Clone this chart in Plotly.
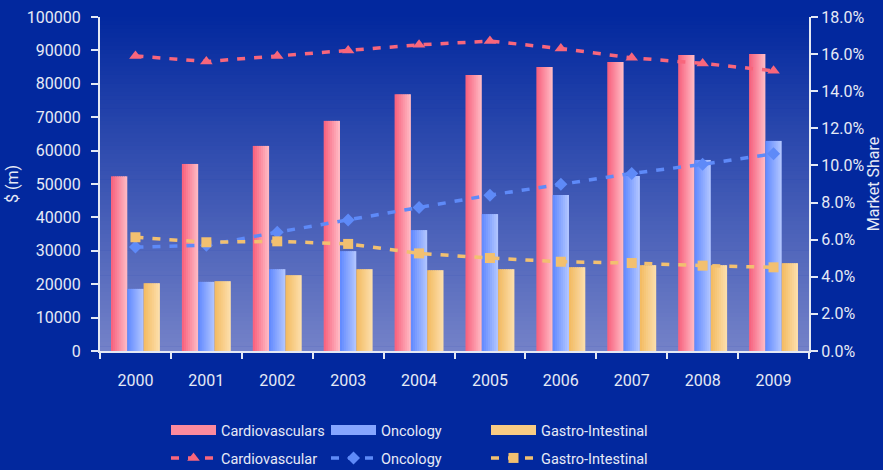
import plotly.graph_objects as go

years = ["2000", "2001", "2002", "2003", "2004", "2005", "2006", "2007", "2008", "2009"]

# Sales ($ m) - bars on left axis
sales_cardio = [52300, 56000, 61400, 68900, 76900, 82600, 85000, 86500, 88600, 88900]
sales_onco = [18600, 20700, 24500, 29900, 36200, 41000, 46700, 52400, 57200, 62900]
sales_gastro = [20300, 20900, 22700, 24500, 24200, 24500, 25100, 25700, 25700, 26300]

# Market share - lines on right axis
share_cardio = [0.159, 0.156, 0.159, 0.162, 0.165, 0.167, 0.163, 0.158, 0.155, 0.151]
share_onco = [0.056, 0.057, 0.064, 0.0706, 0.0774, 0.084, 0.0898, 0.0957, 0.1006, 0.1063]
share_gastro = [0.0613, 0.0586, 0.0591, 0.0577, 0.0526, 0.0501, 0.0481, 0.0474, 0.046, 0.0451]

bar_names = ["Cardiovasculars", "Oncology", "Gastro-Intestinal"]
line_names = ["Cardiovascular", "Oncology", "Gastro-Intestinal"]

left_ticks = list(range(0, 100001, 10000))
right_ticks = [i / 100 for i in range(0, 19, 2)]

BG = (2, 40, 158)
TXT = "#E6EAF6"
FONT = "Roboto"

bar_grad = [((248, 100, 128), (255, 184, 194)),
            ((100, 140, 255), (176, 196, 255)),
            ((244, 188, 100), (252, 222, 170))]
line_cols = ["#F8667C", "#5E8AF8", "#F2C070"]
symbols = ["triangle-up", "diamond", "square"]


def mix(a, b, t):
    return "rgb(%d,%d,%d)" % tuple(round(a[i] + (b[i] - a[i]) * t) for i in range(3))


fig = go.Figure()

group = 0.69
bw = group / 3
nsl = 8
series_vals = [sales_cardio, sales_onco, sales_gastro]
for s, vals in enumerate(series_vals):
    c0, c1 = bar_grad[s]
    for k in range(nsl):
        t = k / (nsl - 1)
        off = -group / 2 + s * bw + k * bw / nsl
        wid = bw / nsl * (1.35 if k < nsl - 1 else 1.0)
        fig.add_trace(go.Bar(
            x=years, y=vals, offset=off, width=wid,
            marker=dict(color=mix(c0, c1, t), line=dict(width=0)),
            name=bar_names[s], legendgroup="b%d" % s,
            showlegend=False,
        ))
    # legend swatch for the bar series
    fig.add_trace(go.Scatter(
        x=[None], y=[None], mode="lines", name=bar_names[s], legendgroup="b%d" % s,
        line=dict(color=mix(c0, c1, 0.45), width=10),
        legend="legend" if s == 0 else "legend%d" % (s + 1),
    ))

for s, vals in enumerate([share_cardio, share_onco, share_gastro]):
    fig.add_trace(go.Scatter(
        x=years, y=vals, yaxis="y2", mode="lines+markers",
        name=line_names[s], legend="legend%d" % (s + 4),
        line=dict(color=line_cols[s], width=3.5, dash="8px,9px"),
        marker=dict(symbol=symbols[s], size=11 if s == 0 else 10, color=line_cols[s]),
    ))

# gradient plot background
shapes = []
nstrip = 80
top = BG
bot = (116, 130, 200)
for i in range(nstrip):
    t = (i + 0.5) / nstrip
    shapes.append(dict(type="rect", xref="paper", yref="paper", layer="below",
                       x0=0, x1=1, y0=1 - (i + 1) / nstrip, y1=1 - i / nstrip + 0.002,
                       fillcolor=mix(top, bot, t), line=dict(width=0)))

axis_line = "#E4E8F4"
tickfont = dict(family=FONT, size=16, color=TXT)

W, H = 883, 470
col_x = [166, 326, 486]
row_y = [430, 458]
legends = {}
n = 0
for r in range(2):
    for c in range(3):
        n += 1
        key = "legend" if n == 1 else "legend%d" % n
        legends[key] = dict(orientation="h", xref="container", yref="container",
                            x=col_x[c] / W, xanchor="left",
                            y=1 - row_y[r] / H, yanchor="middle",
                            itemwidth=45, font=dict(family=FONT, size=14.5, color=TXT),
                            bgcolor="rgba(0,0,0,0)")

fig.update_layout(
    width=W, height=H,
    margin=dict(l=100, r=74, t=17, b=119),
    paper_bgcolor="rgb(%d,%d,%d)" % BG,
    plot_bgcolor="rgba(0,0,0,0)",
    barmode="overlay",
    shapes=shapes,
    font=dict(family=FONT, color=TXT, size=16),
    xaxis=dict(type="category", categoryorder="array", categoryarray=years,
               range=[-0.5, 9.5], tickson="boundaries", ticks="outside", ticklen=6,
               tickwidth=2, tickcolor=axis_line, showline=True, linecolor=axis_line,
               linewidth=2, showgrid=False, tickfont=tickfont, ticklabelstandoff=14,
               zeroline=False, automargin=False),
    xaxis2=dict(overlaying="x", anchor="y", range=[-0.5, 9.5], tickmode="array",
                tickvals=[i - 0.5 for i in range(11)], ticks="inside", ticklen=7,
                tickwidth=2, tickcolor=axis_line, showticklabels=False, showgrid=False,
                showline=False, zeroline=False, automargin=False),
    yaxis=dict(range=[0, 100000], tickmode="array", tickvals=left_ticks,
               tickformat="d", ticks="outside", ticklen=7, tickwidth=2,
               tickcolor=axis_line, showline=True, linecolor=axis_line, linewidth=2,
               showgrid=False, zeroline=False, tickfont=tickfont, ticklabelstandoff=7,
               automargin=False,
               title=dict(text="$ (m)", font=dict(family=FONT, size=16, color=TXT),
                          standoff=4)),
    yaxis3=dict(overlaying="y", anchor="x", side="left", range=[0, 100000],
                tickmode="array", tickvals=left_ticks, ticks="inside", ticklen=7,
                tickwidth=2, tickcolor=axis_line, showticklabels=False,
                showgrid=False, showline=False, zeroline=False, automargin=False),
    yaxis2=dict(overlaying="y", side="right", anchor="x", range=[0, 0.18],
                tickmode="array", tickvals=right_ticks, tickformat=".1%",
                ticks="outside", ticklen=7, tickwidth=2, tickcolor=axis_line,
                showline=True, linecolor=axis_line, linewidth=2, showgrid=False,
                zeroline=False, tickfont=tickfont, ticklabelstandoff=0,
                automargin=False,
                title=dict(text="Market Share", font=dict(family=FONT, size=16, color=TXT),
                           standoff=0)),
    yaxis4=dict(overlaying="y", side="right", anchor="x", range=[0, 0.18],
                tickmode="array", tickvals=right_ticks, ticks="inside", ticklen=7,
                tickwidth=2, tickcolor=axis_line, showticklabels=False,
                showgrid=False, showline=False, zeroline=False, automargin=False),
    showlegend=True,
    **legends,
)

fig.write_html("out.html", config={"displayModeBar": False},
               post_script="document.body.style.margin='0';")
